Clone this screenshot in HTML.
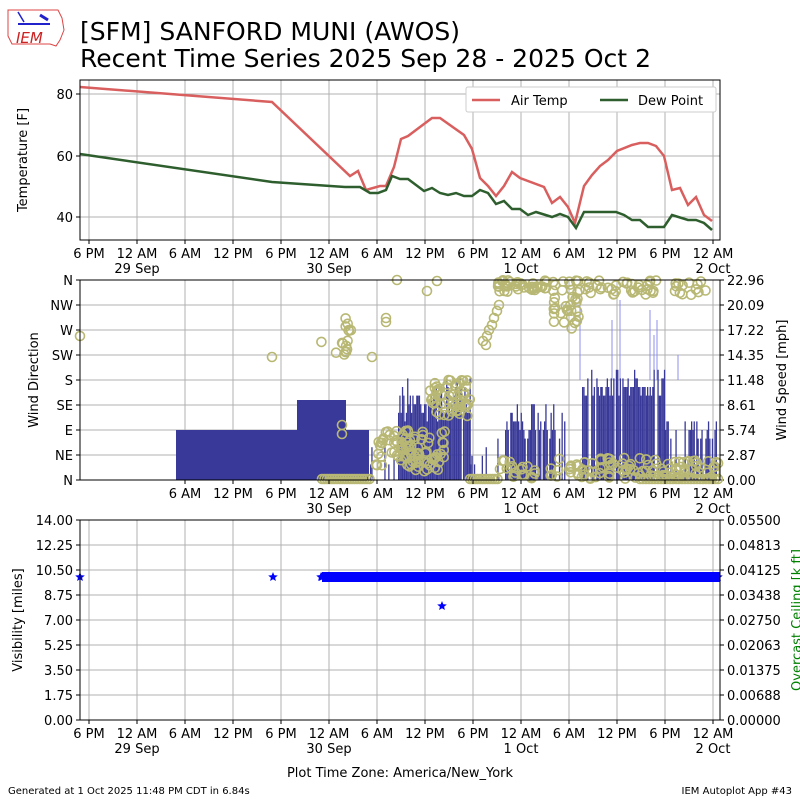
<!DOCTYPE html>
<html><head><meta charset="utf-8"><style>
html,body{margin:0;padding:0;background:#fff}
svg text{font-family:"DejaVu Sans","Liberation Sans",sans-serif}
</style></head><body>
<svg id="s" width="800" height="800" viewBox="0 0 800 800" xmlns="http://www.w3.org/2000/svg">
<rect width="800" height="800" fill="#fff"/>
<g>
<path d="M8 10 L58 10 L62 18 L64 30 L60 40 L56 46 L50 44 L12 44 L8 36 Z" fill="none" stroke="#d44" stroke-width="1"/>
<line x1="18" y1="24" x2="50" y2="24" stroke="#22c" stroke-width="2"/>
<line x1="18" y1="12" x2="24" y2="22" stroke="#22c" stroke-width="1.5"/>
<line x1="40" y1="15" x2="48" y2="20" stroke="#22c" stroke-width="3"/>
<text x="16" y="43" font-size="15" fill="#c22" font-style="italic" font-family="Liberation Serif,serif">IEM</text>
</g>
<text x="80" y="40" font-size="25" textLength="380" lengthAdjust="spacingAndGlyphs">[SFM] SANFORD MUNI (AWOS)</text>
<text x="80" y="67" font-size="25" textLength="571" lengthAdjust="spacingAndGlyphs">Recent Time Series 2025 Sep 28 - 2025 Oct 2</text>
<g id="g"></g>
<text x="8" y="794" font-size="10">Generated at 1 Oct 2025 11:48 PM CDT in 6.84s</text>
<text x="792" y="794" font-size="10" text-anchor="end">IEM Autoplot App #43</text>
<text x="400" y="777" font-size="13" text-anchor="middle">Plot Time Zone: America/New_York</text>
</svg>
<script>
var out="";
function X(h){return 89+h*8;}
var seed=7;function r(){seed=(seed*16807)%2147483647;return seed/2147483647;}
var labs=["6 PM","12 AM","6 AM","12 PM"];
function xaxis(y,startIdx,grid,y0){
 for(var i=startIdx;i<=13;i++){var x=X(i*6);
  if(grid)out+='<line x1="'+x+'" y1="'+y0+'" x2="'+x+'" y2="'+y+'" stroke="#b0b0b0" stroke-width="1"/>';
  out+='<line x1="'+x+'" y1="'+y+'" x2="'+x+'" y2="'+(y+4)+'" stroke="#000"/>';
  out+='<text x="'+x+'" y="'+(y+18)+'" font-size="13" text-anchor="middle">'+labs[i%4]+'</text>';
  var d={1:"29 Sep",5:"30 Sep",9:"1 Oct",13:"2 Oct"}[i];
  if(d)out+='<text x="'+x+'" y="'+(y+33)+'" font-size="13" text-anchor="middle">'+d+'</text>';
 }}
[[40,217],[60,156],[80,94]].forEach(function(a){out+='<line x1="80" y1="'+a[1]+'" x2="720" y2="'+a[1]+'" stroke="#b0b0b0"/><line x1="76" y1="'+a[1]+'" x2="80" y2="'+a[1]+'" stroke="#000"/><text x="73" y="'+(a[1]+5)+'" font-size="13" text-anchor="end">'+a[0]+'</text>';});
xaxis(240,0,true,80);
var T="80,87 272,102 350,176 358,171 366,190 380,186 386,186 394,167 401,139 408,136 432,118 440,118 464,135 472,149 480,178 488,186 496,196 504,186 512,172 520,178 544,187 552,203 560,197 568,207 575,223 584,186 592,175 600,166 608,160 617,151 632,145 640,143 648,143 656,146 664,156 672,190 680,188 688,205 696,197 704,215 712,221";
var D="80,154 272,182 345,187 360,187 370,193 378,193 386,190 392,176 400,179 408,179 424,191 432,188 440,193 448,195 456,193 464,196 472,196 480,190 488,193 496,204 504,201 512,209 520,209 528,215 536,212 552,217 560,214 568,217 576,228 584,212 616,212 624,215 632,220 640,220 648,227 664,227 672,215 688,220 696,220 704,223 712,230";
out+='<polyline points="'+T+'" fill="none" stroke="#d95f5f" stroke-width="2.5"/>';
out+='<polyline points="'+D+'" fill="none" stroke="#2e5e2e" stroke-width="2.5"/>';
out+='<rect x="80" y="80" width="640" height="160" fill="none" stroke="#000"/>';
out+='<text transform="translate(27,160) rotate(-90)" font-size="13" text-anchor="middle">Temperature [F]</text>';
out+='<rect x="466" y="87" width="250" height="25" fill="#fff" stroke="#ccc" rx="2"/>';
out+='<line x1="472" y1="100" x2="500" y2="100" stroke="#d95f5f" stroke-width="2.5"/><text x="511" y="105" font-size="13">Air Temp</text>';
out+='<line x1="600" y1="100" x2="628" y2="100" stroke="#2e5e2e" stroke-width="2.5"/><text x="638" y="105" font-size="13">Dew Point</text>';
var dirs=["N","NE","E","SE","S","SW","W","NW","N"],spd=["0.00","2.87","5.74","8.61","11.48","14.35","17.22","20.09","22.96"];
for(var i=0;i<=8;i++){var y=480-i*25;
 if(i>0&&i<8)out+='<line x1="80" y1="'+y+'" x2="720" y2="'+y+'" stroke="#b0b0b0"/>';
 out+='<line x1="76" y1="'+y+'" x2="80" y2="'+y+'" stroke="#000"/><text x="73" y="'+(y+5)+'" font-size="13" text-anchor="end">'+dirs[i]+'</text>';
 out+='<line x1="720" y1="'+y+'" x2="724" y2="'+y+'" stroke="#000"/><text x="727" y="'+(y+5)+'" font-size="13">'+spd[i]+'</text>';}
for(var i=2;i<=13;i++){var x=X(i*6);out+='<line x1="'+x+'" y1="280" x2="'+x+'" y2="480" stroke="#b0b0b0"/>';}
var B="#393999";
out+='<rect x="176" y="430" width="193" height="50" fill="'+B+'"/><rect x="297" y="400" width="49" height="30" fill="'+B+'"/>';
[[580,300],[612,320],[620,300],[654,335],[657,320],[678,355],[650,310]].forEach(function(s){out+='<line x1="'+s[0]+'" y1="'+s[1]+'" x2="'+s[0]+'" y2="380" stroke="#8f8fef" stroke-width="1"/>';});
function bars(a,b,lo,hi,p){for(var x=a;x<b;x+=1.3){if(r()<p){var t=lo+r()*(hi-lo);t=Math.round(t/8.6)*8.6;out+='<rect x="'+x.toFixed(1)+'" y="'+t.toFixed(1)+'" width="1.3" height="'+(480-t).toFixed(1)+'" fill="'+B+'"/>';}}}
bars(370,398,440,470,0.3);bars(398,470,380,420,0.95);bars(470,505,425,470,0.25);bars(505,555,405,440,0.9);bars(555,582,410,470,0.3);bars(582,665,370,395,0.92);bars(665,720,420,440,0.5);
var C="#b8b874";
function circ(x,y){out+='<circle cx="'+x.toFixed(1)+'" cy="'+y.toFixed(1)+'" r="4.5" fill="none" stroke="'+C+'" stroke-width="1.6"/>';}
function cl(a,b,lo,hi,n){for(var i=0;i<n;i++)circ(a+r()*(b-a),lo+r()*(hi-lo));}
circ(80,336);circ(272,357);circ(386,318);circ(386,322);circ(397,280);circ(427,291);circ(437,281);circ(372,357);circ(342,425);circ(342,434);
cl(320,352,338,355,10);cl(344,352,318,333,6);
for(var x=322;x<372;x+=2.5)circ(x,479);
cl(375,445,430,472,80);cl(430,470,380,416,55);cl(400,420,430,470,15);
for(var x=470;x<500;x+=2.5)circ(x,479);
[[483,341],[486,345],[487,336],[489,330],[492,325],[494,318],[497,311],[499,305]].forEach(function(p){circ(p[0],p[1]);});
cl(498,548,280,292,40);cl(553,580,280,330,35);cl(580,660,280,295,35);cl(675,710,280,295,14);
cl(500,720,458,479,120);
for(var x=640;x<720;x+=3)circ(x,479);
out+='<rect x="80" y="280" width="640" height="200" fill="none" stroke="#000"/>';
out+='<text transform="translate(38,380) rotate(-90)" font-size="13" text-anchor="middle">Wind Direction</text>';
out+='<text transform="translate(786,380) rotate(-90)" font-size="13" text-anchor="middle">Wind Speed [mph]</text>';
xaxis(480,2,false,0);
var vl=["0.00","1.75","3.50","5.25","7.00","8.75","10.50","12.25","14.00"],cl2=["0.00000","0.00688","0.01375","0.02063","0.02750","0.03438","0.04125","0.04813","0.05500"];
for(var i=0;i<=8;i++){var y=720-i*25;
 if(i>0&&i<8)out+='<line x1="80" y1="'+y+'" x2="720" y2="'+y+'" stroke="#b0b0b0"/>';
 out+='<line x1="76" y1="'+y+'" x2="80" y2="'+y+'" stroke="#000"/><text x="73" y="'+(y+5)+'" font-size="13" text-anchor="end">'+vl[i]+'</text>';
 out+='<line x1="720" y1="'+y+'" x2="724" y2="'+y+'" stroke="#000"/><text x="727" y="'+(y+5)+'" font-size="13">'+cl2[i]+'</text>';}
xaxis(720,0,true,520);
function star(x,y){var p=[];for(var k=0;k<10;k++){var a=-Math.PI/2+k*Math.PI/5,rr=k%2?2.2:5;p.push((x+rr*Math.cos(a)).toFixed(1)+","+(y+rr*Math.sin(a)).toFixed(1));}out+='<polygon points="'+p.join(" ")+'" fill="#00f"/>';}
star(80,577);star(273,577);star(321,577);star(442,606);
out+='<rect x="322" y="572" width="398" height="10" fill="#00f"/>';
for(var x=322;x<720;x+=4)star(x,577);
out+='<rect x="80" y="520" width="640" height="200" fill="none" stroke="#000"/>';
out+='<text transform="translate(22,620) rotate(-90)" font-size="13" text-anchor="middle">Visibility [miles]</text>';
out+='<text transform="translate(801,620) rotate(-90)" font-size="13" text-anchor="middle" fill="green">Overcast Ceiling [k ft]</text>';
document.getElementById("g").innerHTML=out;
</script>
</body></html>
